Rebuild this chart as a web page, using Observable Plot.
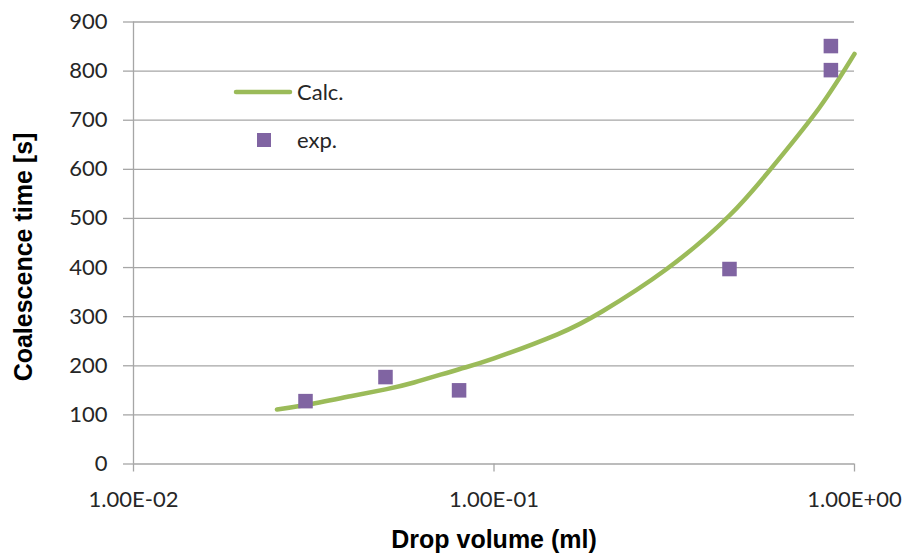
<!DOCTYPE html>
<html>
<head>
<meta charset="utf-8">
<script src="https://cdn.jsdelivr.net/npm/d3@7"></script>
<script src="https://cdn.jsdelivr.net/npm/@observablehq/plot@0.6"></script>
<style>
  html, body { margin: 0; padding: 0; background: #fff; }
  #wrap { position: relative; width: 909px; height: 554px; }
  .leg { position: absolute; font-family: Lato, "Open Sans", sans-serif; font-size: 22px; color: #262626; line-height: 1; }
</style>
</head>
<body>
<div id="wrap"></div>
<script>
// Calculated curve
const calcVolume = [0.025, 0.03, 0.04, 0.05, 0.06, 0.08, 0.1, 0.15, 0.2, 0.3, 0.45, 0.6, 0.8, 1.0];
const calcTime   = [111, 120, 138, 152, 166, 193, 215, 264, 311, 396, 506, 610, 726, 835];
// Experimental points
const expVolume = [0.03, 0.05, 0.08, 0.45, 0.86, 0.86];
const expTime   = [128, 177, 150, 397, 851, 802];
// Ticks
const xTickValues = [0.01, 0.1, 1];
const xTickLabels = ["1.00E-02", "1.00E-01", "1.00E+00"];
const yTickValues = [0, 100, 200, 300, 400, 500, 600, 700, 800, 900];
const seriesNames = ["Calc.", "exp."];
const xTitle = "Drop volume (ml)";
const yTitle = "Coalescence time [s]";

const calc = calcVolume.map((v, i) => ({v, t: calcTime[i]}));
const exp = expVolume.map((v, i) => ({v, t: expTime[i]}));

const green = "#9BBB59", purple = "#8064A2", grid = "#A6A6A6", ink = "#262626";
const tickFont = "Lato, 'Open Sans', sans-serif";
const titleFont = "'Liberation Sans', Arial, sans-serif";

const chart = Plot.plot({
  width: 909,
  height: 554,
  marginLeft: 133,
  marginRight: 55,
  marginTop: 21.5,
  marginBottom: 90.5,
  style: {background: "#fff", color: ink, overflow: "visible"},
  x: {type: "log", domain: [0.01, 1]},
  y: {domain: [0, 900]},
  marks: [
    Plot.gridY(yTickValues, {stroke: grid, strokeOpacity: 1, strokeWidth: 1.3}),
    Plot.ruleX([0.01], {stroke: grid, strokeWidth: 1.3}),
    Plot.axisY(yTickValues, {tickSize: 10, tickPadding: 16, stroke: grid, strokeWidth: 1.3, fill: ink,
      fontSize: 22, fontFamily: tickFont, label: null, tickFormat: d => String(d)}),
    Plot.axisX(xTickValues, {tickSize: 8, tickPadding: 19, stroke: grid, strokeWidth: 1.3, fill: ink,
      fontSize: 22, fontFamily: tickFont, label: null,
      tickFormat: d => xTickLabels[xTickValues.indexOf(d)]}),
    Plot.line(calc, {x: "v", y: "t", stroke: green, strokeWidth: 4.5, curve: "natural"}),
    Plot.dot(exp, {x: "v", y: "t", symbol: "square", r: 8.2, fill: purple, stroke: "none"}),
    Plot.text([xTitle], {frameAnchor: "bottom", dy: 83.5, text: d => d, fontSize: 25, fontWeight: "bold",
      fontFamily: titleFont, fill: "#000"}),
    Plot.text([yTitle], {frameAnchor: "left", dx: -110, dy: 14, rotate: -90, textAnchor: "middle", lineAnchor: "middle",
      text: d => d, fontSize: 25, fontWeight: "bold", fontFamily: titleFont, fill: "#000"})
  ]
});
const wrap = document.getElementById("wrap");
wrap.appendChild(chart);

// Legend inside plot area (HTML overlay)
const legSvg = `<svg width="70" height="20" style="position:absolute;left:226px;top:82px;overflow:visible">
  <line x1="10" y1="10" x2="64" y2="10" stroke="${green}" stroke-width="4.5" stroke-linecap="round"/></svg>`;
wrap.insertAdjacentHTML("beforeend", legSvg);
wrap.insertAdjacentHTML("beforeend",
  `<div style="position:absolute;left:257px;top:133px;width:14px;height:14px;background:${purple}"></div>`);
wrap.insertAdjacentHTML("beforeend", `<div class="leg" style="left:297px;top:81px">${seriesNames[0]}</div>`);
wrap.insertAdjacentHTML("beforeend", `<div class="leg" style="left:297px;top:129px">${seriesNames[1]}</div>`);
</script>
</body>
</html>
